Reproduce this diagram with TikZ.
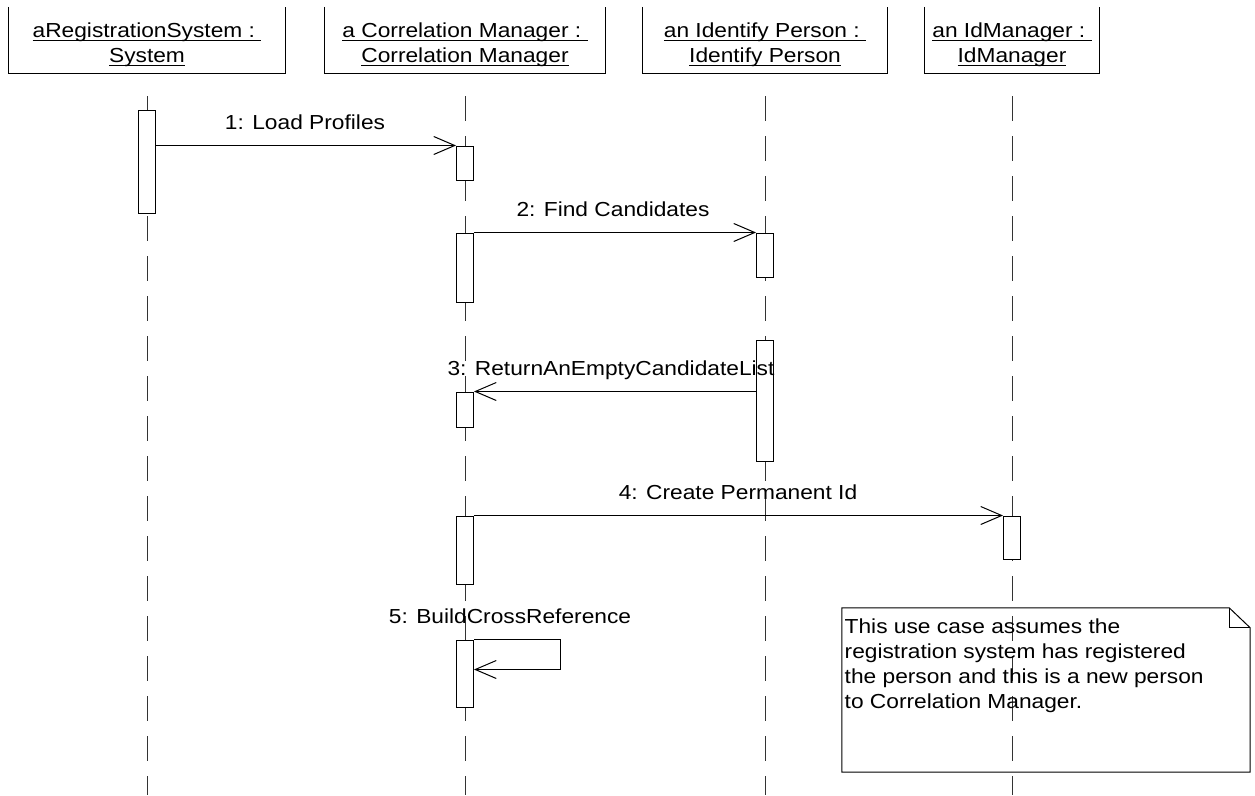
\documentclass[tikz,border=0pt]{standalone}
\usepackage{fontspec}
\setmainfont{Liberation Sans}[FakeStretch=1.12]
\usetikzlibrary{arrows.meta}

\newcommand{\umlsize}{\fontsize{20.3pt}{25pt}\selectfont}
\newcommand{\objul}[1]{\setbox0\hbox{#1}\rlap{\vrule height -2.6pt depth 3.8pt width \wd0}\box0}

\begin{document}
\begin{tikzpicture}[x=1pt,y=-1pt,
  every node/.style={font=\umlsize},
  head/.style={minimum height=66pt,inner sep=0pt,align=center},
  act/.style={draw,fill=white,line width=1pt,minimum width=17pt,inner sep=0pt},
  lifeline/.style={line width=1pt,black!80,dash pattern=on 25pt off 15pt},
  msg/.style={line width=1pt,-{Straight Barb[length=21pt,width=18pt]}},
  msglabel/.style={anchor=base,inner sep=0pt}]

\useasboundingbox (0,0) rectangle (1255,795);

%对象
\node [head,minimum width=277pt] (sys) at (147,40) {\rule{0pt}{23.5pt}\objul{aRegistrationSystem :\ }\\\objul{System}};
\node [head,minimum width=281pt] (corr) at (465,40) {\rule{0pt}{23.5pt}\objul{a Correlation Manager :\ }\\\objul{Correlation Manager}};
\node [head,minimum width=244pt] (ident) at (765,40) {\rule{0pt}{23.5pt}\objul{an Identify Person :\ }\\\objul{Identify Person}};
\node [head,minimum width=175pt] (idm) at (1012,40) {\rule{0pt}{23.5pt}\objul{an IdManager :\ }\\\objul{IdManager}};
\foreach \n in {sys,corr,ident,idm}
  \draw [line width=1pt] (\n.north west) -- (\n.south west) -- (\n.south east) -- (\n.north east);

%生命线
\coordinate (sysend) at (147,795);
\coordinate (corrend) at (465,795);
\coordinate (identend) at (765,795);
\coordinate (idmend) at (1012,795);
\draw [lifeline] ([yshift=-23pt]sys.south) -- (sysend);
\draw [lifeline] ([yshift=-23pt]corr.south) -- (corrend);
\draw [lifeline] ([yshift=-23pt]ident.south) -- (identend);
\draw [lifeline] ([yshift=-23pt]idm.south) -- (idmend);

%激活条
\node [act,minimum height=103pt] (a1) at (147,161.5) {};
\node [act,minimum height=34pt] (a2) at (465,163) {};
\node [act,minimum height=69pt] (a3) at (465,267.5) {};
\node [act,minimum height=44pt] (a4) at (765,255) {};
\node [act,minimum height=121pt] (a5) at (765,400.5) {};
\node [act,minimum height=35pt] (a6) at (465,409.5) {};
\node [act,minimum height=68pt] (a7) at (465,550) {};
\node [act,minimum height=43pt] (a8) at (1012,537.5) {};
\node [act,minimum height=67pt] (a9) at (465,673.5) {};

%消息
\draw [msg] (a1.east |- a2.north) -- (a2.north west);
\draw [msg] (a3.north east) -- (a4.north west);
\draw [msg] (a5.west |- a6.north) -- (a6.north east);
\draw [msg] (a7.north east) -- (a8.north west);
\draw [msg] (a9.north east) -- ++(86,0) -- ++(0,30) -- ([yshift=-30pt]a9.north east);

\node [msglabel] (m1) at (305,129) {1: Load Profiles};
\node [msglabel] (m2) at (613,216) {2: Find Candidates};
\node [msglabel] (m3) at (611,375) {3: ReturnAnEmptyCandidateList};
\node [msglabel] (m4) at (738,499) {4: Create Permanent Id};
\node [msglabel] (m5) at (510,623) {5: BuildCrossReference};

%注释
\node [minimum width=408pt,minimum height=164pt,inner sep=0pt] (note) at (1046,690) {};
\draw [line width=1pt] (note.north west) -- ([xshift=-21pt]note.north east) -- ([yshift=-20pt]note.north east) -- (note.south east) -- (note.south west) -- cycle;
\draw [line width=1pt] ([xshift=-21pt]note.north east) |- ([yshift=-20pt]note.north east);
\node [anchor=north west,inner sep=0pt,align=left] (notetext) at (844.5,618.2) {This use case assumes the\\registration system has registered\\the person and this is a new person\\to Correlation Manager.};

\end{tikzpicture}
\end{document}
